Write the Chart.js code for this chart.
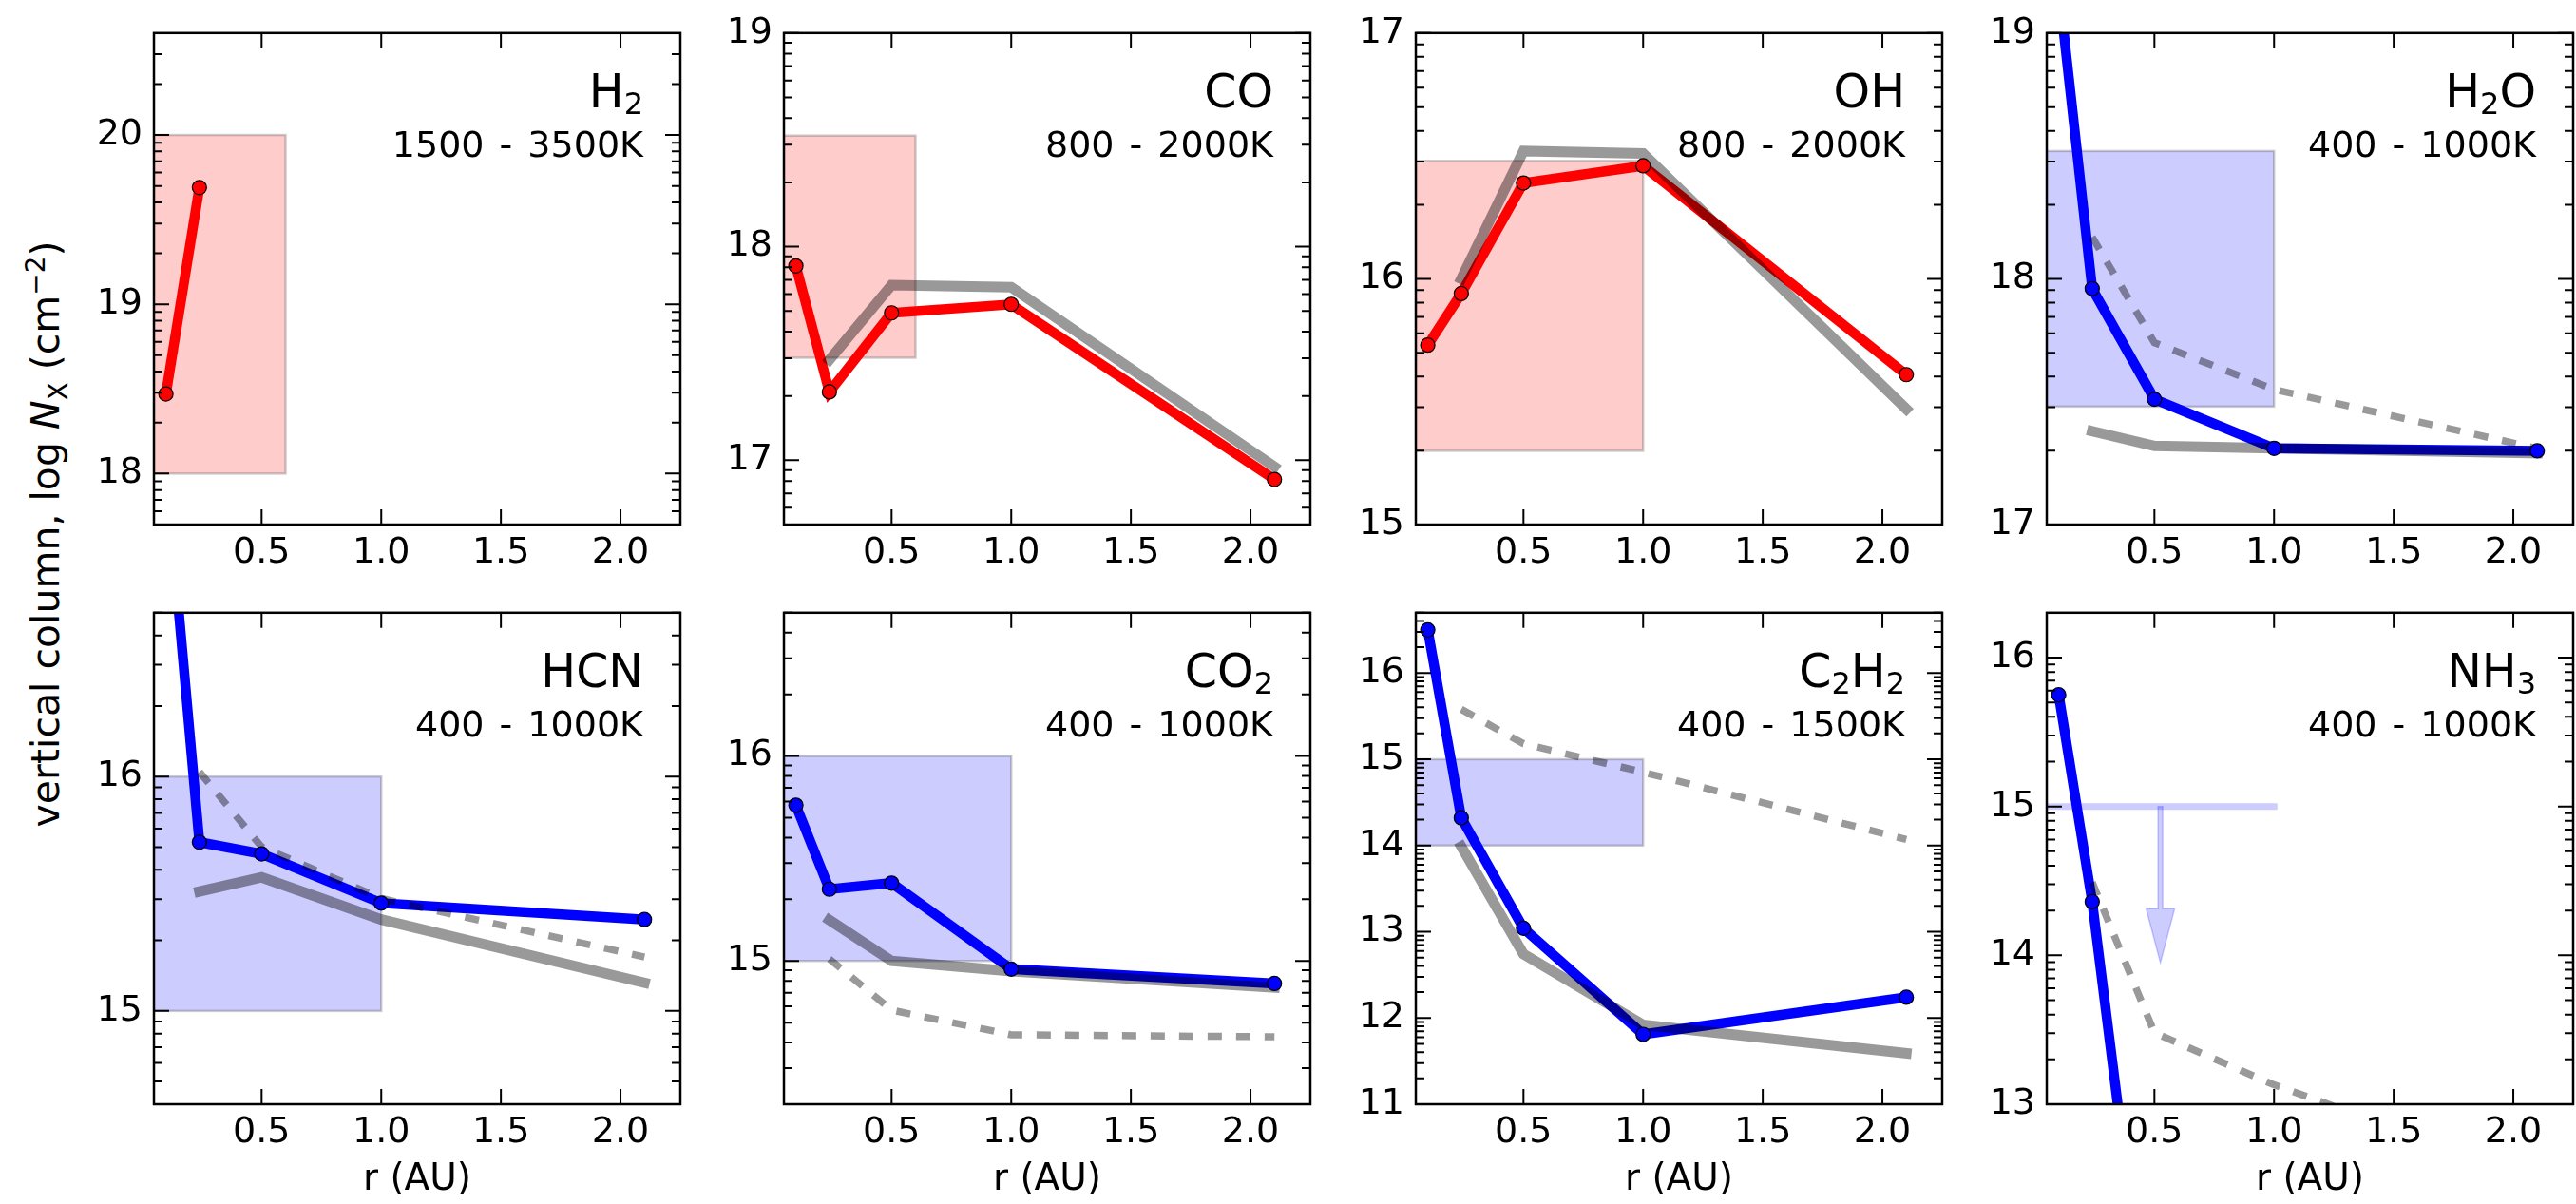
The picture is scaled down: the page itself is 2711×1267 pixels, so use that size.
<!DOCTYPE html>
<html>
<head>
<meta charset="utf-8">
<title>Vertical column densities</title>
<script src="https://cdn.jsdelivr.net/npm/chart.js@4.4.1/dist/chart.umd.min.js"></script>
<style>
  html, body { margin: 0; padding: 0; background: #fff; }
  body { position: relative; width: 2711px; height: 1267px; overflow: hidden; font-family: "DejaVu Sans", sans-serif; }
  canvas { position: absolute; }
  #ylabel {
    position: absolute; left: 48px; top: 562px;
    transform: translate(-50%, -50%) rotate(-90deg);
    font-size: 41px; line-height: 1; white-space: nowrap; color: #000;
  }
  #ylabel sub, #ylabel sup { font-size: 68%; line-height: 0; }
</style>
</head>
<body>
<div id="ylabel">vertical column, log <i>N</i><sub>X</sub> (cm<sup>−2</sup>)</div>
<script>
// radii of the model points (AU)
const radius = [0.1, 0.24, 0.5, 1.0, 2.1];
const xTicks = [0.5, 1.0, 1.5, 2.0];
const xMin = 0.05, xMax = 2.25;

const molecules = ["H_2", "CO", "OH", "H_2O", "HCN", "CO_2", "C_2H_2", "NH_3"];
const tempRanges = ["1500 - 3500K", "800 - 2000K", "800 - 2000K", "400 - 1000K",
                    "400 - 1000K", "400 - 1000K", "400 - 1500K", "400 - 1000K"];
const colors = ["red", "red", "red", "blue", "blue", "blue", "blue", "blue"];

// y limits (log N)
const yMin = [17.699, 16.699, 15, 17, 14.602, 14.301, 11, 13];
const yMax = [20.602, 19, 17, 19, 16.699, 16.699, 16.699, 16.301];

// model column densities, log N, at radius[]
const modelH2   = [18.47, 19.69, null, null, null];
const modelCO   = [17.91, 17.32, 17.69, 17.73, 16.91];
const modelOH   = [15.73, 15.94, 16.39, 16.46, 15.61];
const modelH2O  = [19.19, 17.96, 17.51, 17.31, 17.30];
const modelHCN  = [17.32, 15.72, 15.67, 15.46, 15.39];
const modelCO2  = [15.76, 15.35, 15.38, 14.96, 14.89];
const modelC2H2 = [16.50, 14.32, 13.04, 11.81, 12.24];
const modelNH3  = [15.75, 14.36, 11.04, null, null];

// gray comparison models (solid / dashed)
const solidCO   = [null, 17.47, 17.82, 17.81, 16.97];
const solidOH   = [null, 16.00, 16.52, 16.51, 15.47];
const solidH2O  = [null, 17.38, 17.32, 17.31, 17.29];
const solidHCN  = [null, 15.51, 15.57, 15.39, 15.12];
const solidCO2  = [null, 15.20, 15.00, 14.95, 14.87];
const solidC2H2 = [null, 13.99, 12.74, 11.92, 11.59];

const dashH2O  = [null, 18.17, 17.74, 17.55, 17.31];
const dashHCN  = [null, 16.02, 15.70, 15.48, 15.23];
const dashCO2  = [null, 15.01, 14.76, 14.64, 14.63];
const dashC2H2 = [null, 15.58, 15.18, 14.85, 14.07];
const dashNH3  = [null, 14.49, 13.48, 13.13, 12.50];

const models = [modelH2, modelCO, modelOH, modelH2O, modelHCN, modelCO2, modelC2H2, modelNH3];
const graySolid = [null, solidCO, solidOH, solidH2O, solidHCN, solidCO2, solidC2H2, null];
const grayDashed = [null, null, null, dashH2O, dashHCN, dashCO2, dashC2H2, dashNH3];

// observed ranges: r from 0 to boxRight, log N from boxLow to boxHigh
const boxRight = [0.6, 0.6, 1.0, 1.0, 1.0, 1.0, 1.0, null];
const boxLow   = [18, 17.48, 15.3, 17.48, 15, 15, 14, null];
const boxHigh  = [20, 18.52, 16.48, 18.52, 16, 16, 15, null];

// NH3 upper limit
const upperLimit    = [null, null, null, null, null, null, null, 15];
const upperLimitR   = [null, null, null, null, null, null, null, 1.0];
const upperLimitTip = [null, null, null, null, null, null, null, 13.95];

// layout
const colLeft = [162, 825, 1490, 2154];
const rowTop = [31, 641];
const plotW = 554, plotH = 521, figH = 1267;

const lineColor = { red: "#ff0000", blue: "#0000ff" };
const shadeColor = { red: "rgba(255,0,0,0.2)", blue: "rgba(0,0,255,0.2)" };
const grayColor = "rgba(0,0,0,0.4)";
const FONT = '"DejaVu Sans", sans-serif';

Chart.defaults.font.family = FONT;
Chart.defaults.color = "#000";

function points(ys) {
  const out = [];
  ys.forEach(function (y, k) {
    if (y !== null) out.push({ x: radius[k], y: y });
  });
  return out;
}

function isMajor(v) {
  return Math.abs(v - Math.round(v)) < 1e-6;
}

function drawFormula(ctx, text, xRight, yBase) {
  const parts = [];
  for (let k = 0; k < text.length; k++) {
    if (text[k] === "_") {
      parts.push({ s: text[++k], sub: true });
    } else if (parts.length && !parts[parts.length - 1].sub) {
      parts[parts.length - 1].s += text[k];
    } else {
      parts.push({ s: text[k], sub: false });
    }
  }
  let w = 0;
  parts.forEach(function (p) {
    ctx.font = (p.sub ? "32px " : "49px ") + FONT;
    p.w = ctx.measureText(p.s).width;
    w += p.w;
  });
  let x = xRight - w;
  ctx.textAlign = "left";
  parts.forEach(function (p) {
    ctx.font = (p.sub ? "32px " : "49px ") + FONT;
    ctx.fillText(p.s, x, yBase + (p.sub ? 7 : 0));
    x += p.w;
  });
}

function decor(i) {
  return {
    id: "decor" + i,
    beforeDatasetsDraw(chart) {
      const ctx = chart.ctx, a = chart.chartArea;
      const x = chart.scales.x, y = chart.scales.y;
      ctx.save();
      ctx.beginPath();
      ctx.rect(a.left, a.top, a.right - a.left, a.bottom - a.top);
      ctx.clip();
      if (boxRight[i] !== null) {
        const x0 = x.getPixelForValue(0), x1 = x.getPixelForValue(boxRight[i]);
        const y0 = y.getPixelForValue(boxHigh[i]), y1 = y.getPixelForValue(boxLow[i]);
        ctx.fillStyle = shadeColor[colors[i]];
        ctx.fillRect(x0, y0, x1 - x0, y1 - y0);
        ctx.strokeStyle = "rgba(0,0,0,0.2)";
        ctx.lineWidth = 2.5;
        ctx.strokeRect(x0, y0, x1 - x0, y1 - y0);
      }
      if (upperLimit[i] !== null) {
        const yl = y.getPixelForValue(upperLimit[i]);
        const xr = x.getPixelForValue(upperLimitR[i]);
        ctx.strokeStyle = shadeColor.blue;
        ctx.lineWidth = 7;
        ctx.lineCap = "square";
        ctx.beginPath();
        ctx.moveTo(x.getPixelForValue(0), yl);
        ctx.lineTo(xr, yl);
        ctx.stroke();
        // arrow pointing down from the middle of the limit
        const xa = x.getPixelForValue((xMin + upperLimitR[i]) / 2);
        const yTip = y.getPixelForValue(upperLimitTip[i]);
        const yHead = yTip - 57;
        ctx.beginPath();
        ctx.moveTo(xa - 2.5, yl);
        ctx.lineTo(xa + 2.5, yl);
        ctx.lineTo(xa + 2.5, yHead);
        ctx.lineTo(xa + 15, yHead);
        ctx.lineTo(xa, yTip);
        ctx.lineTo(xa - 15, yHead);
        ctx.lineTo(xa - 2.5, yHead);
        ctx.closePath();
        ctx.fillStyle = shadeColor.blue;
        ctx.fill();
        ctx.lineWidth = 1.5;
        ctx.lineCap = "butt";
        ctx.stroke();
      }
      ctx.restore();
    },
    afterDatasetsDraw(chart) {
      const ctx = chart.ctx, a = chart.chartArea;
      const x = chart.scales.x, y = chart.scales.y;
      ctx.save();
      ctx.strokeStyle = "#000";
      ctx.lineWidth = 2;
      ctx.beginPath();
      x.ticks.forEach(function (t) {
        const px = x.getPixelForValue(t.value);
        ctx.moveTo(px, a.bottom); ctx.lineTo(px, a.bottom - 16);
        ctx.moveTo(px, a.top); ctx.lineTo(px, a.top + 16);
      });
      y.ticks.forEach(function (t) {
        const py = y.getPixelForValue(t.value);
        const len = isMajor(t.value) ? 16 : 9;
        ctx.moveTo(a.left, py); ctx.lineTo(a.left + len, py);
        ctx.moveTo(a.right, py); ctx.lineTo(a.right - len, py);
      });
      ctx.stroke();
      ctx.lineWidth = 2.5;
      ctx.strokeRect(a.left, a.top, a.right - a.left, a.bottom - a.top);

      ctx.fillStyle = "#000";
      ctx.textBaseline = "alphabetic";
      drawFormula(ctx, molecules[i], a.right - 39, a.top + 78);
      ctx.font = "38px " + FONT;
      ctx.textAlign = "right";
      if ("wordSpacing" in ctx) ctx.wordSpacing = "4px";
      ctx.fillText(tempRanges[i], a.right - 39, a.top + 130);
      ctx.restore();
    }
  };
}

function makePanel(i) {
  const col = i % 4, row = Math.floor(i / 4);
  const padL = 100, padR = 20, padT = 31;
  const padB = row === 0 ? 70 : figH - (rowTop[1] + plotH);
  const W = padL + plotW + padR, H = padT + plotH + padB;
  const canvas = document.createElement("canvas");
  canvas.width = W;
  canvas.height = H;
  canvas.style.left = (colLeft[col] - padL) + "px";
  canvas.style.top = (rowTop[row] - padT) + "px";
  canvas.style.width = W + "px";
  canvas.style.height = H + "px";
  document.body.appendChild(canvas);

  const color = lineColor[colors[i]];
  const datasets = [];
  datasets.push({
    data: points(models[i]),
    showLine: false,
    pointRadius: 7.5,
    pointBackgroundColor: color,
    pointBorderColor: "#000",
    pointBorderWidth: 1.2,
  });
  if (graySolid[i]) {
    datasets.push({
      data: points(graySolid[i]),
      borderColor: grayColor,
      borderWidth: 11,
      pointRadius: 0,
      borderCapStyle: "square",
      borderJoinStyle: "miter",
    });
  }
  if (grayDashed[i]) {
    datasets.push({
      data: points(grayDashed[i]),
      borderColor: grayColor,
      borderWidth: 7.5,
      borderDash: [15, 15],
      pointRadius: 0,
      borderCapStyle: "butt",
      borderJoinStyle: "miter",
    });
  }
  datasets.push({
    data: points(models[i]),
    borderColor: color,
    borderWidth: 10.5,
    pointRadius: 0,
    borderCapStyle: "square",
    borderJoinStyle: "miter",
  });

  new Chart(canvas, {
    type: "line",
    data: { datasets },
    options: {
      responsive: false,
      animation: false,
      devicePixelRatio: 1,
      events: [],
      layout: { padding: { left: 0, right: padR, top: padT, bottom: 0 }, autoPadding: false },
      plugins: { legend: { display: false }, tooltip: { enabled: false } },
      scales: {
        x: {
          type: "linear",
          min: xMin,
          max: xMax,
          grid: { display: false, drawTicks: false },
          border: { display: false },
          afterBuildTicks: function (s) {
            s.ticks = xTicks.map(function (v) { return { value: v }; });
          },
          afterFit: function (s) { s.height = padB; },
          ticks: {
            font: { size: 38 },
            color: "#000",
            padding: 7,
            autoSkip: false,
            maxRotation: 0,
            callback: function (v) { return Number(v).toFixed(1); },
          },
          title: {
            display: row === 1,
            text: "r (AU)",
            font: { size: 39 },
            color: "#000",
            padding: { top: 0, bottom: 2 },
          },
        },
        y: {
          type: "linear",
          min: yMin[i],
          max: yMax[i],
          grid: { display: false, drawTicks: false },
          border: { display: false },
          afterBuildTicks: function (s) {
            const t = [];
            for (let d = Math.floor(s.min); d <= Math.ceil(s.max); d++) {
              for (let k = 1; k <= 9; k++) {
                const v = d + Math.log10(k);
                if (v >= s.min - 1e-6 && v <= s.max + 1e-6) t.push({ value: v });
              }
            }
            s.ticks = t;
          },
          afterFit: function (s) { s.width = padL; },
          ticks: {
            font: { size: 38 },
            color: "#000",
            padding: 12,
            autoSkip: false,
            callback: function (v) { return isMajor(v) ? String(Math.round(v)) : ""; },
          },
        },
      },
    },
    plugins: [decor(i)],
  });
}

for (let i = 0; i < molecules.length; i++) makePanel(i);
</script>
</body>
</html>
